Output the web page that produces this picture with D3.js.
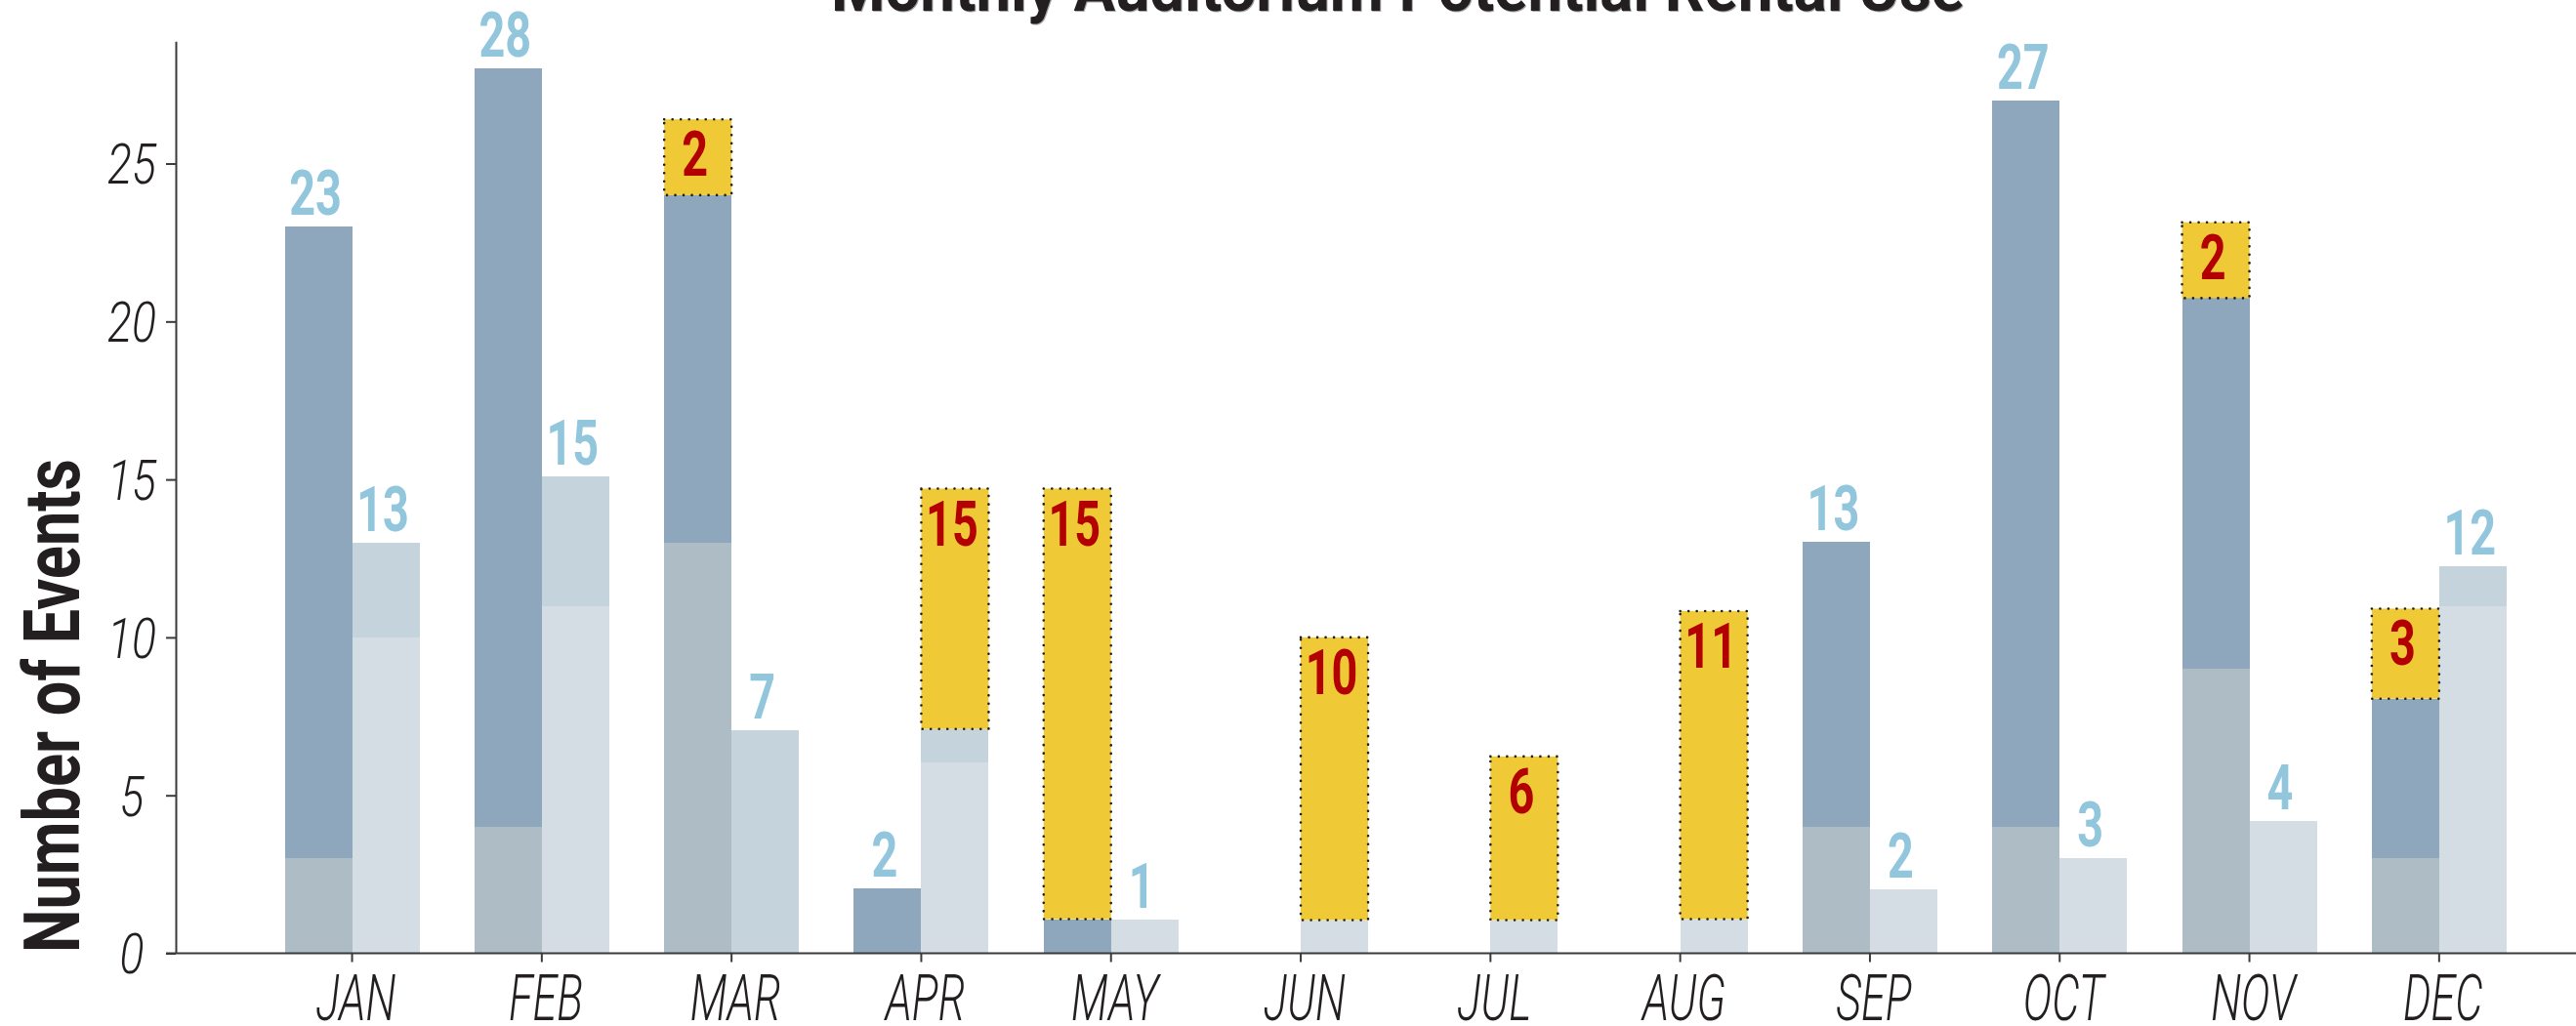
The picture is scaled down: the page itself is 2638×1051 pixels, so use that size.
<!DOCTYPE html>
<html>
<head>
<meta charset="utf-8">
<script src="https://cdn.jsdelivr.net/npm/d3@7"></script>
<style>
  body { margin: 0; background: #fff; }
  svg { display: block; }
  text { font-family: "Roboto", "Liberation Sans", "DejaVu Sans", sans-serif; }
</style>
</head>
<body>
<svg id="chart" width="2638" height="1051"></svg>
<script>
// ---------------- data ----------------
const months = ["JAN","FEB","MAR","APR","MAY","JUN","JUL","AUG","SEP","OCT","NOV","DEC"];
// left bar: lower grey segment and total (dark upper segment)
const leftBase   = [3, 4, 13, 0, 0, 0, 0, 0, 4, 4, 9, 3];
const leftTotal  = [23, 28, 24, 2.06, 1.08, 0, 0, 0, 13.03, 27, 20.74, 8.06];
const leftLabels = ["23","28","","2","","","","","13","27","",""];
// right bar: lower pale segment and total (light upper segment)
const rightBase   = [10, 11, 0, 6.05, 1.06, 1.05, 1.05, 1.08, 2.02, 3.01, 4.19, 11];
const rightTotal  = [13, 15.1, 7.07, 7.1, 1.06, 1.05, 1.05, 1.08, 2.02, 3.01, 4.19, 12.25];
const rightLabels = ["13","15","7","","1","","","","2","3","4","12"];
// potential rentals (yellow), stacked on top of one of the two bars
const potentialSide   = ["","","left","right","left","right","right","right","","","left","left"];
const potentialTop    = [0, 0, 26.4, 14.71, 14.71, 10.0, 6.23, 10.83, 0, 0, 23.14, 10.91];
const potentialLabels = ["","","2","15","15","10","6","11","","","2","3"];
const yTicks = [0, 5, 10, 15, 20, 25];
const yMax = 28.87;
const titleText = "Monthly Auditorium Potential Rental Use";
const yTitle = "Number of Events";

// ---------------- layout ----------------
const W = 2638, H = 1051;
const svg = d3.select("#chart");
const x = d3.scaleBand().domain(months).range([263.4, 2595]);
const y = d3.scaleLinear().domain([0, yMax]).range([976.5, 42.3]);
const bw = x.bandwidth() * 0.355;
const cx = m => x(m) + x.bandwidth() / 2;

const C = {
  dark: "#8fa7bc", darkLow: "#aebcc6",
  light: "#c5d3dd", lightLow: "#d4dde4",
  yellow: "#efca36", red: "#b30000", blue: "#92c6dd",
  ink: "#231f20", axis: "#3a3a3a"
};

function condense(sel, f) {
  sel.each(function () {
    const L = this.getComputedTextLength();
    this.setAttribute("textLength", L * f);
    this.setAttribute("lengthAdjust", "spacingAndGlyphs");
  });
}

const data = months.map((m, i) => ({
  m, lb: leftBase[i], lt: leftTotal[i], ll: leftLabels[i],
  rb: rightBase[i], rt: rightTotal[i], rl: rightLabels[i],
  ps: potentialSide[i], pt: potentialTop[i], pl: potentialLabels[i]
}));

const bars = svg.append("g").attr("shape-rendering", "crispEdges");

// left bars
bars.selectAll(".lbase").data(data.filter(d => d.lb > 0)).join("rect")
  .attr("x", d => cx(d.m) - bw).attr("width", bw)
  .attr("y", d => y(d.lb)).attr("height", d => y(0) - y(d.lb))
  .attr("fill", C.darkLow);
bars.selectAll(".ltop").data(data.filter(d => d.lt > d.lb)).join("rect")
  .attr("x", d => cx(d.m) - bw).attr("width", bw)
  .attr("y", d => y(d.lt)).attr("height", d => y(d.lb) - y(d.lt))
  .attr("fill", C.dark);
// right bars
bars.selectAll(".rbase").data(data.filter(d => d.rb > 0)).join("rect")
  .attr("x", d => cx(d.m)).attr("width", bw)
  .attr("y", d => y(d.rb)).attr("height", d => y(0) - y(d.rb))
  .attr("fill", C.lightLow);
bars.selectAll(".rtop").data(data.filter(d => d.rt > d.rb)).join("rect")
  .attr("x", d => cx(d.m)).attr("width", bw)
  .attr("y", d => y(d.rt)).attr("height", d => y(d.rb) - y(d.rt))
  .attr("fill", C.light);

// potential (yellow) boxes
const pot = data.filter(d => d.ps);
const potBase = d => d.ps === "left" ? d.lt : d.rt;
const potX = d => d.ps === "left" ? cx(d.m) - bw : cx(d.m);
svg.append("g").selectAll("rect").data(pot).join("rect")
  .attr("x", potX).attr("width", bw)
  .attr("y", d => y(d.pt)).attr("height", d => y(potBase(d)) - y(d.pt))
  .attr("fill", C.yellow)
  .attr("stroke", "#1e1e1e").attr("stroke-width", 2.6)
  .attr("stroke-dasharray", "0.01 8.5").attr("stroke-linecap", "round");

// value labels
const lab = svg.append("g").attr("font-weight", 700).attr("font-size", 65).attr("text-anchor", "middle");
const blueL = lab.selectAll(".bl").data(data.filter(d => d.ll)).join("text")
  .attr("x", d => cx(d.m) - bw / 2 - 3).attr("y", d => y(d.lt) - 12)
  .attr("fill", C.blue).text(d => d.ll);
const blueR = lab.selectAll(".br").data(data.filter(d => d.rl)).join("text")
  .attr("x", d => cx(d.m) + bw / 2 - 3).attr("y", d => y(d.rt) - 12)
  .attr("fill", C.blue).text(d => d.rl);
const redL = lab.selectAll(".rd").data(pot).join("text")
  .attr("x", d => potX(d) + bw / 2 - 3).attr("y", d => y(d.pt) + 58)
  .attr("fill", C.red).text(d => d.pl);
condense(blueL, 0.72); condense(blueR, 0.72); condense(redL, 0.72);

// y axis
const ya = svg.append("g").attr("transform", "translate(180,0)")
  .call(d3.axisLeft(y).tickValues(yTicks).tickSize(10).tickSizeOuter(0).tickFormat(d3.format("d")));
ya.select(".domain").attr("stroke", C.axis).attr("stroke-width", 2);
ya.selectAll(".tick line").attr("stroke", C.axis).attr("stroke-width", 2);
const yt = ya.selectAll(".tick text")
  .attr("x", -45).attr("dy", "0.35em").attr("text-anchor", "middle")
  .attr("fill", C.ink).attr("font-size", 58).attr("font-style", "italic").attr("font-weight", 300)
  .style("font-family", '"Roboto", "Liberation Sans", sans-serif');
condense(yt, 0.8);

// x axis
const xa = svg.append("g").attr("transform", `translate(0,${y(0)})`)
  .call(d3.axisBottom(x).tickSize(9).tickSizeOuter(0));
xa.select(".domain").remove();
xa.append("line").attr("x1", 170).attr("x2", W).attr("y1", 0).attr("y2", 0)
  .attr("stroke", C.axis).attr("stroke-width", 2.2);
xa.selectAll(".tick line").attr("stroke", C.axis).attr("stroke-width", 2);
const xt = xa.selectAll(".tick text")
  .attr("y", 68.5).attr("dy", 0).attr("dx", 4).attr("text-anchor", "middle")
  .attr("fill", C.ink).attr("font-size", 66).attr("font-style", "italic").attr("font-weight", 300)
  .style("font-family", '"Roboto", "Liberation Sans", sans-serif');
condense(xt, 0.68);

// title (top is cut off in the reference)
svg.append("text").attr("x", 1432.5).attr("y", 12).attr("text-anchor", "middle")
  .attr("font-size", 64).attr("font-weight", 700).attr("fill", "#a8a8a8")
  .attr("textLength", 1161).attr("lengthAdjust", "spacingAndGlyphs").text(titleText);
svg.append("text").attr("x", 1431.5).attr("y", 10.5).attr("text-anchor", "middle")
  .attr("font-size", 64).attr("font-weight", 700).attr("fill", C.ink)
  .attr("textLength", 1161).attr("lengthAdjust", "spacingAndGlyphs").text(titleText);

// y axis title
svg.append("text").attr("transform", "translate(80.5,723) rotate(-90)")
  .attr("text-anchor", "middle").attr("font-size", 80).attr("font-weight", 700).attr("fill", C.ink)
  .attr("textLength", 506).attr("lengthAdjust", "spacingAndGlyphs").text(yTitle);
</script>
</body>
</html>
